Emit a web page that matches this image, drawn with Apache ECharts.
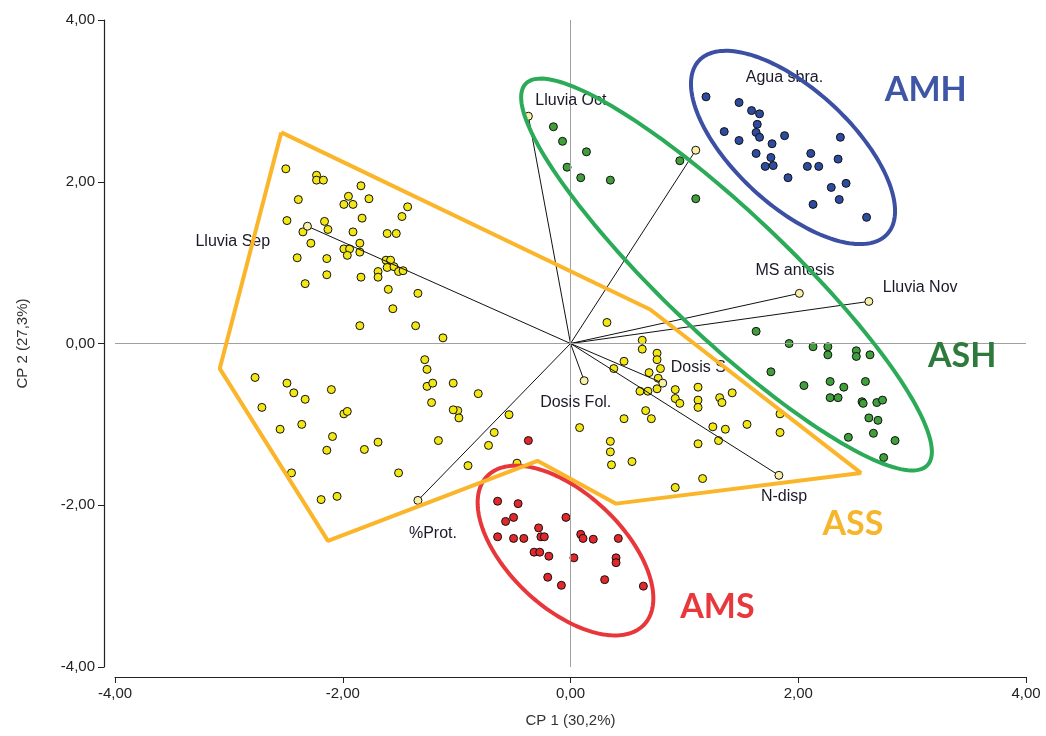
<!DOCTYPE html>
<html><head><meta charset="utf-8">
<script src="https://cdn.jsdelivr.net/npm/echarts@6/dist/echarts.min.js"></script>
<style>html,body{margin:0;padding:0;background:#fff}#c{width:1046px;height:736px}</style>
</head><body><div id="c"></div>
<script>
// ---- data ----
const ptsASS = [[-2.50,2.16],[-2.23,2.08],[-2.23,2.02],[-2.17,2.02],[-1.84,1.95],[-2.39,1.78],[-1.95,1.82],[-1.99,1.72],[-1.91,1.72],[-1.77,1.79],[-1.43,1.69],[-1.48,1.57],[-2.49,1.52],[-2.16,1.51],[-1.83,1.55],[-2.35,1.38],[-2.13,1.41],[-1.91,1.38],[-1.61,1.36],[-1.53,1.36],[-2.28,1.24],[-1.85,1.24],[-1.99,1.17],[-1.94,1.17],[-1.96,1.09],[-1.85,1.13],[-2.40,1.06],[-2.14,1.05],[-1.62,1.03],[-1.58,1.03],[-1.61,0.94],[-1.55,0.95],[-1.51,0.89],[-1.47,0.90],[-1.69,0.89],[-1.69,0.82],[-1.84,0.82],[-2.14,0.85],[-2.33,0.74],[-1.60,0.67],[-1.34,0.62],[-1.56,0.43],[-1.85,0.22],[-1.36,0.22],[-1.12,0.07],
[-2.77,-0.42],[-2.49,-0.49],[-2.43,-0.61],[-2.33,-0.69],[-2.10,-0.57],[-2.71,-0.79],[-2.55,-1.06],[-2.36,-1.00],[-1.99,-0.87],[-1.96,-0.84],[-2.09,-1.15],[-2.14,-1.32],[-1.81,-1.31],[-1.69,-1.22],[-2.45,-1.60],[-1.51,-1.60],[-2.19,-1.93],[-2.05,-1.89],
[-1.28,-0.20],[-1.26,-0.32],[-1.26,-0.53],[-1.21,-0.49],[-1.03,-0.49],[-1.22,-0.73],[-0.99,-0.83],[-0.98,-0.92],[-1.03,-0.82],[-1.16,-1.20],[-0.81,-0.62],[-0.54,-0.88],[-0.67,-1.10],[-0.72,-1.26],[-0.90,-1.51],[-0.47,-1.48],
[0.32,0.26],[0.63,0.04],[0.63,-0.07],[0.76,-0.12],[0.76,-0.20],[0.47,-0.22],[0.38,-0.31],[0.69,-0.36],[0.79,-0.31],[0.77,-0.43],[0.76,-0.56],[0.61,-0.59],[0.68,-0.59],[0.92,-0.57],[0.92,-0.68],[1.12,-0.54],[1.12,-0.70],[1.12,-0.79],[0.96,-0.74],[1.31,-0.67],[1.33,-0.73],[1.42,-0.61],[0.08,-1.04],[0.47,-0.93],[0.66,-0.83],[0.71,-0.93],[0.35,-1.21],[0.35,-1.34],[0.36,-1.50],[0.54,-1.46],[1.12,-1.24],[1.30,-1.20],[1.25,-1.03],[1.36,-1.06],[1.55,-1.00],[1.84,-0.87],[1.84,-1.10],[0.92,-1.78],[1.16,-1.67]];
const ptsAMH = [[1.19,3.05],[1.48,2.98],[1.59,2.88],[1.66,2.84],[1.64,2.71],[1.63,2.61],[1.66,2.55],[1.35,2.62],[1.48,2.51],[1.77,2.47],[1.88,2.57],[1.63,2.35],[1.76,2.30],[1.71,2.19],[1.78,2.20],[1.91,2.05],[2.11,2.35],[2.08,2.19],[2.18,2.19],[2.37,2.55],[2.35,2.28],[2.42,1.98],[2.29,1.93],[2.36,1.78],[2.13,1.72],[2.60,1.56]];
const ptsASH = [[-0.15,2.68],[-0.07,2.50],[0.14,2.37],[-0.03,2.18],[0.09,2.05],[0.35,2.02],[0.96,2.26],[1.10,1.79],[1.63,0.15],[1.92,0.00],[2.13,-0.04],[2.26,-0.04],[2.26,-0.14],[2.51,-0.09],[2.51,-0.16],[2.63,-0.14],[1.76,-0.35],[2.05,-0.52],[2.28,-0.47],[2.40,-0.54],[2.28,-0.67],[2.35,-0.67],[2.59,-0.47],[2.56,-0.72],[2.57,-0.74],[2.69,-0.73],[2.74,-0.70],[2.62,-0.92],[2.70,-0.95],[2.66,-1.11],[2.44,-1.16],[2.85,-1.20],[2.75,-1.41]];
const ptsAMS = [[-0.64,-1.95],[-0.46,-1.98],[-0.50,-2.15],[-0.57,-2.20],[-0.28,-2.28],[-0.26,-2.39],[-0.23,-2.39],[-0.64,-2.39],[-0.50,-2.41],[-0.41,-2.41],[-0.04,-2.15],[0.09,-2.36],[0.11,-2.41],[0.20,-2.42],[0.42,-2.41],[-0.32,-2.58],[-0.27,-2.58],[-0.19,-2.63],[0.03,-2.65],[0.40,-2.65],[0.40,-2.71],[-0.20,-2.89],[-0.08,-2.99],[0.30,-2.92],[0.64,-3.00],[-0.37,-1.20]];

const varNames = ['Lluvia Oct','Agua sbra.','Lluvia Sep','MS antesis','Lluvia Nov','Dosis S','Dosis Fol.','N-disp','%Prot.'];
const varX = [-0.37, 1.10, -2.31, 2.01, 2.62, 0.81, 0.12, 1.83, -1.34];
const varY = [ 2.81, 2.39,  1.45, 0.62, 0.52,-0.49,-0.46,-1.63, -1.94];

const groupNames = ['AMH','ASH','ASS','AMS'];
const hullASS = [[-2.54,2.61],[0.70,0.42],[2.55,-1.60],[0.40,-1.98],[-0.29,-1.45],[-2.13,-2.44],[-3.08,-0.31]];
// ellipses: centre and two conjugate half-axis vectors (data units)
const ellAMH = {c:[1.954,2.424], u:[0.827,-1.072], v:[-0.345,-0.528]};
const ellASH = {c:[1.370,0.853], u:[1.764,-2.358], v:[-0.375,-0.556]};
const ellAMS = {c:[-0.044,-2.560], u:[0.691,-0.915], v:[-0.343,-0.514]};

const xTicks = [-4,-2,0,2,4];
const yTicks = [-4,-2,0,2,4];

// ---- layout / style ----
const labelOffsets = {'Lluvia Oct':[7,-16],'Agua sbra.':[50,-73],'Lluvia Sep':[-112,15],'MS antesis':[-44,-23],'Lluvia Nov':[14,-14],'Dosis S':[8,-16],'Dosis Fol.':[-44,22],'N-disp':[-18,21],'%Prot.':[-9,33]};
const groupAnchor = {AMH:[3.12,3.13], ASH:[3.44,-0.15], ASS:[2.48,-2.23], AMS:[1.29,-3.26]};
const groupColor = {AMH:'#3f56a6', ASH:'#2e7a3c', ASS:'#f7b52c', AMS:'#e8383b'};
const FONT = 'Liberation Sans, Arial, sans-serif';
const fmt = v => v.toFixed(2).replace('.', ',');

function pts(data, color){
  return {type:'scatter', data:data, symbol:'circle', symbolSize:8, z:3, silent:true,
    itemStyle:{color:color, borderColor:'#111', borderWidth:1, opacity:1}};
}
function ellipse(e, color){
  return {type:'custom', coordinateSystem:'cartesian2d', data:[[e.c[0], e.c[1]]], z:6, silent:true,
    renderItem:function(params, api){
      const p=[];
      for(let i=0;i<=180;i++){
        const t=i/180*2*Math.PI;
        p.push(api.coord([e.c[0]+e.u[0]*Math.cos(t)+e.v[0]*Math.sin(t), e.c[1]+e.u[1]*Math.cos(t)+e.v[1]*Math.sin(t)]));
      }
      return {type:'polygon', shape:{points:p}, style:{fill:null, stroke:color, lineWidth:4}};
    }};
}

const chart = echarts.init(document.getElementById('c'), null, {renderer:'canvas'});
chart.setOption({
  animation:false,
  backgroundColor:'#fff',
  grid:{left:115, right:20, top:20, bottom:69},
  xAxis:{type:'value', min:xTicks[0], max:xTicks[xTicks.length-1], interval:2, offset:10,
    axisLine:{show:true, onZero:false, lineStyle:{color:'#222', width:1.2}},
    axisTick:{show:true, length:6, lineStyle:{color:'#222'}},
    axisLabel:{formatter:fmt, color:'#222', fontSize:15, fontFamily:FONT, margin:9},
    splitLine:{show:false},
    name:'CP 1 (30,2%)', nameLocation:'middle', nameGap:36,
    nameTextStyle:{color:'#333', fontSize:15, fontFamily:FONT}},
  yAxis:{type:'value', min:yTicks[0], max:yTicks[yTicks.length-1], interval:2, offset:11,
    axisLine:{show:true, onZero:false, lineStyle:{color:'#222', width:1.2}},
    axisTick:{show:true, length:6, lineStyle:{color:'#222'}},
    axisLabel:{formatter:fmt, color:'#222', fontSize:15, fontFamily:FONT, margin:9},
    splitLine:{show:false},
    name:'CP 2 (27,3%)', nameLocation:'middle', nameGap:74, nameRotate:90,
    nameTextStyle:{color:'#333', fontSize:15, fontFamily:FONT}},
  series:[
    {type:'line', data:[], silent:true, z:1,
      markLine:{silent:true, symbol:'none', label:{show:false}, animation:false,
        lineStyle:{color:'#a0a0a0', type:'solid', width:1},
        data:[{xAxis:0},{yAxis:0}]}},
    pts(ptsASS, '#f2e614'),
    pts(ptsASH, '#3f9f3a'),
    pts(ptsAMH, '#2d4b9f'),
    pts(ptsAMS, '#e2282b'),
    {type:'custom', coordinateSystem:'cartesian2d', z:4, silent:true,
      data: varNames.map((n,i)=>[varX[i], varY[i]]),
      renderItem:function(params, api){
        const o=api.coord([0,0]); const e=api.coord([api.value(0), api.value(1)]);
        return {type:'line', shape:{x1:o[0],y1:o[1],x2:e[0],y2:e[1]}, style:{stroke:'#111', lineWidth:1}};
      }},
    {type:'scatter', z:5, silent:true, symbol:'circle', symbolSize:8,
      itemStyle:{color:'#f7f0a6', borderColor:'#111', borderWidth:1, opacity:1},
      data: varNames.map((n,i)=>({name:n, value:[varX[i], varY[i]],
        label:{offset:labelOffsets[n]}})),
      label:{show:true, formatter:'{b}', position:'inside', align:'left', verticalAlign:'middle',
        color:'#1a1a2a', opacity:1, fontSize:16, fontFamily:FONT}},
    {type:'line', data:hullASS.concat([hullASS[0]]), z:6, silent:true, symbol:'none',
      lineStyle:{color:'#fbb52a', width:4}},
    ellipse(ellAMH, '#3b50a2'),
    ellipse(ellASH, '#2bab58'),
    ellipse(ellAMS, '#e8373b'),
    {type:'scatter', z:7, silent:true, symbolSize:2,
      itemStyle:{color:'rgba(0,0,0,0)', borderWidth:0, opacity:1},
      data: groupNames.map(g=>({name:g, value:groupAnchor[g],
        label:{color:groupColor[g]}})),
      label:{show:true, formatter:'{b}', position:'inside', align:'center', verticalAlign:'middle',
        opacity:1, fontSize:34, fontWeight:'bold', fontFamily:'Lato, Open Sans, sans-serif'}}
  ]
});
</script></body></html>
